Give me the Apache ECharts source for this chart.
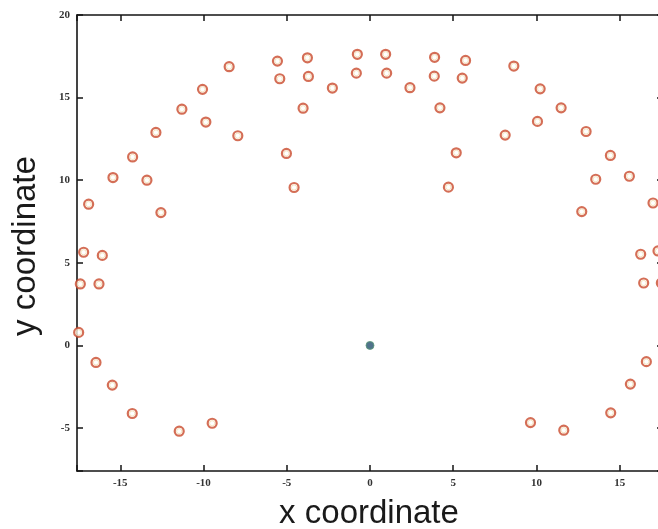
<!DOCTYPE html>
<html><head><meta charset="utf-8">
<script src="https://cdn.jsdelivr.net/npm/echarts@6/dist/echarts.min.js"></script>
<style>html,body{margin:0;padding:0;background:#fff;overflow:hidden}#c{width:672px;height:529px}</style>
</head><body><div id="c"></div><script>
// Scatter points (open circles)
const pointX = [
  -17.5, -17.4, -16.28, -17.2, -16.08, -16.9, -12.56, -15.44, -13.4, -14.26,
  -12.86, -11.3, -10.06, -9.86, -7.94, -8.46, -5.56, -5.42, -3.76, -3.7,
  -2.26, -4.02, -5.02, -4.56, -0.76, -0.82, -16.46, -15.48, -14.28, -11.46,
  -9.48,
  0.94, 1.0, 2.4, 3.88, 3.86, 4.2, 5.74, 5.54, 5.18, 4.71,
  8.64, 8.12, 10.22, 10.06, 11.48, 12.98, 14.44, 13.56, 15.58, 12.72,
  17.0, 16.26, 17.3, 16.44, 17.5, 16.6, 15.64, 14.46, 11.64, 9.64
];
const pointY = [
  0.79, 3.72, 3.72, 5.64, 5.45, 8.55, 8.04, 10.16, 10.0, 11.41,
  12.89, 14.3, 15.5, 13.52, 12.69, 16.87, 17.21, 16.14, 17.41, 16.28,
  15.58, 14.36, 11.62, 9.56, 17.62, 16.48, -1.03, -2.4, -4.12, -5.19,
  -4.71,
  17.62, 16.48, 15.6, 17.44, 16.3, 14.38, 17.25, 16.18, 11.66, 9.58,
  16.91, 12.73, 15.53, 13.56, 14.38, 12.95, 11.5, 10.06, 10.24, 8.1,
  8.62, 5.52, 5.72, 3.78, 3.78, -0.98, -2.34, -4.08, -5.13, -4.67
];
// Origin (filled dot)
const originX = [0];
const originY = [0];
// Axis ranges and titles
const xRange = [-17.6, 17.6];
const yRange = [-7.6, 20];
const xTitle = 'x coordinate';
const yTitle = 'y coordinate';

const points = pointX.map((x, i) => [x, pointY[i]]);
const origin = originX.map((x, i) => [x, originY[i]]);

const labelFmt = v => (Math.abs(v % 5) < 1e-9 ? String(v) : '');
function axisBase(extra) {
  return Object.assign({
    type: 'value',
    splitNumber: 7,
    axisLine: { show: true, onZero: false, lineStyle: { color: '#151515', width: 1.6 } },
    axisTick: { show: true, inside: true, length: 6, lineStyle: { color: '#151515', width: 1.5 } },
    splitLine: { show: false },
    axisLabel: {
      show: true, margin: 7, formatter: labelFmt,
      fontFamily: 'Liberation Serif', fontWeight: 'bold', fontSize: 11, color: '#333'
    }
  }, extra);
}

const chart = echarts.init(document.getElementById('c'), null, { renderer: 'canvas' });
chart.setOption({
  animation: false,
  backgroundColor: '#ffffff',
  grid: { left: 77, top: 15, width: 586, height: 456, containLabel: false },
  xAxis: [
    axisBase({ position: 'bottom', min: xRange[0], max: xRange[1] }),
    axisBase({ position: 'top', min: xRange[0], max: xRange[1], axisLabel: { show: false } })
  ],
  yAxis: [
    axisBase({ position: 'left', min: yRange[0], max: yRange[1], splitNumber: 6 }),
    axisBase({ position: 'right', min: yRange[0], max: yRange[1], splitNumber: 6, axisLabel: { show: false } })
  ],
  series: [
    {
      type: 'scatter', data: points, xAxisIndex: 0, yAxisIndex: 0,
      symbol: 'circle', symbolSize: 9, clip: false,
      itemStyle: { color: '#ffffff', borderColor: '#c94a2c', borderWidth: 2.2 }
    },
    {
      type: 'scatter', data: points, xAxisIndex: 0, yAxisIndex: 0,
      symbol: 'circle', symbolSize: 5.2, clip: false, silent: true,
      itemStyle: { color: 'rgba(0,0,0,0)', borderColor: 'rgba(230,180,80,0.55)', borderWidth: 0.8 }
    },
    {
      type: 'scatter', data: origin, xAxisIndex: 0, yAxisIndex: 0,
      symbol: 'circle', symbolSize: 8,
      itemStyle: { color: '#24506e', borderColor: '#5c9c78', borderWidth: 1 }
    }
  ],
  graphic: [
    {
      type: 'text', x: 369, y: 514,
      style: { text: xTitle, fontFamily: 'Liberation Sans', fontSize: 33, fill: '#1a1a1a',
               textAlign: 'center', textVerticalAlign: 'middle', align: 'center', verticalAlign: 'middle' }
    },
    {
      type: 'text', x: 25.5, y: 246, rotation: Math.PI / 2,
      style: { text: yTitle, fontFamily: 'Liberation Sans', fontSize: 33, fill: '#1a1a1a',
               textAlign: 'center', textVerticalAlign: 'middle', align: 'center', verticalAlign: 'middle' }
    }
  ]
});
</script></body></html>
